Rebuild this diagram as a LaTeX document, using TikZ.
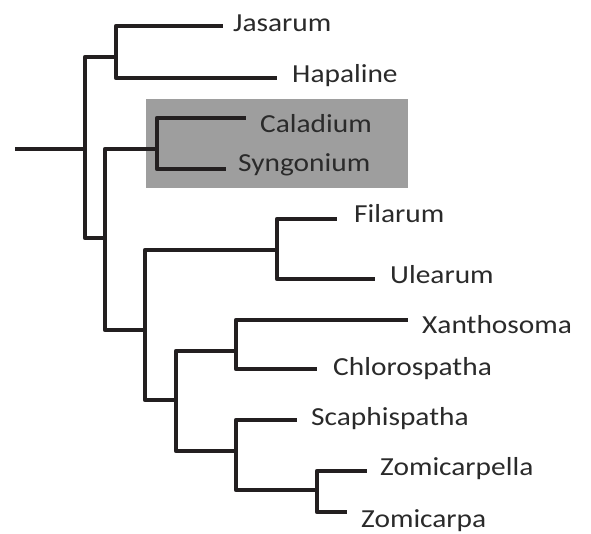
\documentclass[tikz,border=0pt]{standalone}
\usepackage{fontspec}
\setmainfont[FakeStretch=1.13]{Carlito}
\usetikzlibrary{positioning,calc}
\definecolor{brc}{HTML}{231F20}
\definecolor{txc}{HTML}{2A2A2A}
\definecolor{boxc}{HTML}{9E9E9E}
\tikzset{
  br/.style={draw=brc, line width=4.5pt, line join=round},
  tx/.style={anchor=base west, inner sep=0pt, text=txc, font=\fontsize{26}{30}\selectfont},
  hl/.style={fill=boxc, draw=none},
}

\begin{document}
\begin{tikzpicture}[x=1pt, y=-1pt]
  \useasboundingbox (0,0) rectangle (591,534);
  \fill[hl] (146,99) rectangle (408,188);
  % inner nodes
  \coordinate (root) at (15,149);
  \coordinate (nA) at (85,149);
  \coordinate (nB) at (116,57);
  \coordinate (nC) at (105,238);
  \coordinate (nD) at (157,149);
  \coordinate (nE) at (145,330);
  \coordinate (nF) at (277,250);
  \coordinate (nG) at (176,400);
  \coordinate (nH) at (236,351);
  \coordinate (nI) at (236,451);
  \coordinate (nJ) at (317,490);
  % tips
  \coordinate (tJas) at (223,26);
  \coordinate (tHap) at (277,78);
  \coordinate (tCal) at (246,118);
  \coordinate (tSyn) at (226,169);
  \coordinate (tFil) at (337,219);
  \coordinate (tUle) at (375,279);
  \coordinate (tXan) at (408,320);
  \coordinate (tChl) at (317,369);
  \coordinate (tSca) at (297,420);
  \coordinate (tZla) at (367,471);
  \coordinate (tZpa) at (347,512);
  % labels
  \node[tx] (Jas) at (233,32) {Jasarum};
  \node[tx] (Hap) at (292,83) {Hapaline};
  \node[tx] (Cal) at (260,133) {Caladium};
  \node[tx] (Syn) at (238,172) {Syngonium};
  \node[tx] (Fil) at (354,223) {Filarum};
  \node[tx] (Ule) at (390,284) {Ulearum};
  \node[tx] (Xan) at (422,334) {Xanthosoma};
  \node[tx] (Chl) at (333,375) {Chlorospatha};
  \node[tx] (Sca) at (311,425) {Scaphispatha};
  \node[tx] (Zla) at (380,475) {Zomicarpella};
  \node[tx] (Zpa) at (361,527) {Zomicarpa};
  % branches
  \draw[br] (root) -- (nA);
  \draw[br] (nA) |- (nB);
  \draw[br] (nA) |- (nC);
  \draw[br] (nB) |- (tJas);
  \draw[br] (nB) |- (tHap);
  \draw[br] (nC) |- (nD);
  \draw[br] (nC) |- (nE);
  \draw[br] (nD) |- (tCal);
  \draw[br] (nD) |- (tSyn);
  \draw[br] (nE) |- (nF);
  \draw[br] (nE) |- (nG);
  \draw[br] (nF) |- (tFil);
  \draw[br] (nF) |- (tUle);
  \draw[br] (nG) |- (nH);
  \draw[br] (nG) |- (nI);
  \draw[br] (nH) |- (tXan);
  \draw[br] (nH) |- (tChl);
  \draw[br] (nI) |- (tSca);
  \draw[br] (nI) |- (nJ);
  \draw[br] (nJ) |- (tZla);
  \draw[br] (nJ) |- (tZpa);
\end{tikzpicture}
\end{document}
